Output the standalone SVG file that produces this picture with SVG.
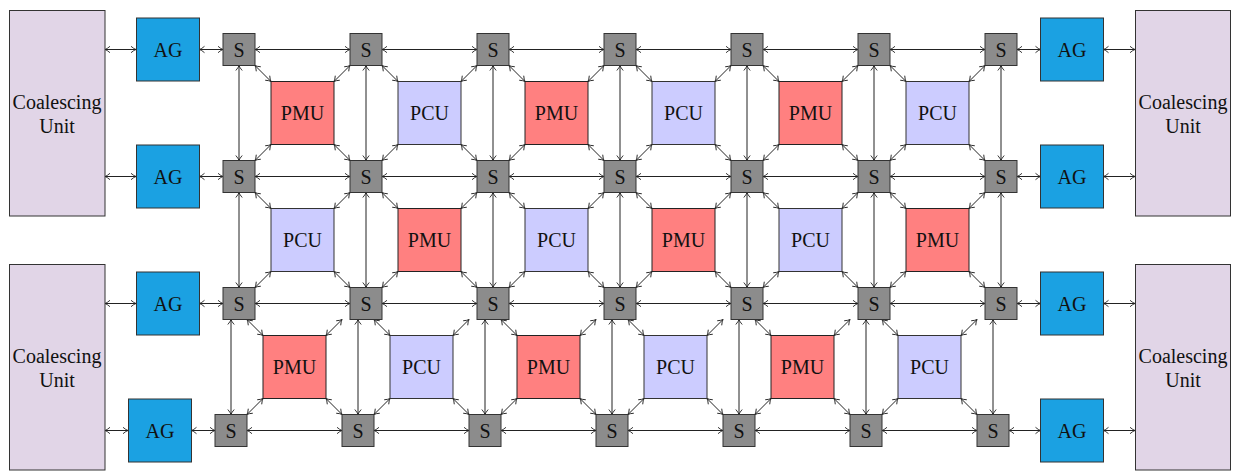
<svg xmlns="http://www.w3.org/2000/svg" width="1235" height="471" viewBox="0 0 1235 471">
<style>
.cu{fill:#e1d5e7;stroke:#333;stroke-width:1}
.ag{fill:#1ba1e2;stroke:#333;stroke-width:1}
.pmu{fill:#ff8080;stroke:#222;stroke-width:1}
.pcu{fill:#ccccff;stroke:#333;stroke-width:1}
.s{fill:#8c8c8c;stroke:#333;stroke-width:1}
text{font-family:"Liberation Serif","Times New Roman",serif;font-size:20px;fill:#111;text-anchor:middle}
#edges line{stroke:#222;stroke-width:1;fill:none;marker-start:url(#ah);marker-end:url(#ah)}
</style>
<defs>
<marker id="ah" viewBox="-7 -5 8 10" refX="0" refY="0" markerWidth="8" markerHeight="10" markerUnits="userSpaceOnUse" orient="auto-start-reverse" style="overflow:visible">
<path d="M-5,-3.2 Q-2,-0.6 0,0 Q-2,0.6 -5,3.2" fill="none" stroke="#222" stroke-width="0.9"/>
</marker>
</defs>
<rect width="1235" height="471" fill="#fff"/>

<g id="edges">
<line x1="105" y1="49.5" x2="136" y2="49.5"/>
<line x1="199.5" y1="49.5" x2="223" y2="49.5"/>
<line x1="255" y1="49.5" x2="350" y2="49.5"/>
<line x1="382" y1="49.5" x2="477" y2="49.5"/>
<line x1="509" y1="49.5" x2="604" y2="49.5"/>
<line x1="636" y1="49.5" x2="731" y2="49.5"/>
<line x1="763" y1="49.5" x2="858" y2="49.5"/>
<line x1="890" y1="49.5" x2="985" y2="49.5"/>
<line x1="1017" y1="49.5" x2="1040.5" y2="49.5"/>
<line x1="1103.5" y1="49.5" x2="1135" y2="49.5"/>
<line x1="105" y1="176.5" x2="136" y2="176.5"/>
<line x1="199.5" y1="176.5" x2="223" y2="176.5"/>
<line x1="255" y1="176.5" x2="350" y2="176.5"/>
<line x1="382" y1="176.5" x2="477" y2="176.5"/>
<line x1="509" y1="176.5" x2="604" y2="176.5"/>
<line x1="636" y1="176.5" x2="731" y2="176.5"/>
<line x1="763" y1="176.5" x2="858" y2="176.5"/>
<line x1="890" y1="176.5" x2="985" y2="176.5"/>
<line x1="1017" y1="176.5" x2="1040.5" y2="176.5"/>
<line x1="1103.5" y1="176.5" x2="1135" y2="176.5"/>
<line x1="105" y1="303.5" x2="136" y2="303.5"/>
<line x1="199.5" y1="303.5" x2="223" y2="303.5"/>
<line x1="255" y1="303.5" x2="350" y2="303.5"/>
<line x1="382" y1="303.5" x2="477" y2="303.5"/>
<line x1="509" y1="303.5" x2="604" y2="303.5"/>
<line x1="636" y1="303.5" x2="731" y2="303.5"/>
<line x1="763" y1="303.5" x2="858" y2="303.5"/>
<line x1="890" y1="303.5" x2="985" y2="303.5"/>
<line x1="1017" y1="303.5" x2="1040.5" y2="303.5"/>
<line x1="1103.5" y1="303.5" x2="1135" y2="303.5"/>
<line x1="105" y1="430.5" x2="128" y2="430.5"/>
<line x1="191.5" y1="430.5" x2="215" y2="430.5"/>
<line x1="247" y1="430.5" x2="342" y2="430.5"/>
<line x1="374" y1="430.5" x2="469" y2="430.5"/>
<line x1="501" y1="430.5" x2="596" y2="430.5"/>
<line x1="628" y1="430.5" x2="723" y2="430.5"/>
<line x1="755" y1="430.5" x2="850" y2="430.5"/>
<line x1="882" y1="430.5" x2="977" y2="430.5"/>
<line x1="1009" y1="430.5" x2="1040.5" y2="430.5"/>
<line x1="1103.5" y1="430.5" x2="1135" y2="430.5"/>
<line x1="239" y1="65.5" x2="239" y2="160.5"/>
<line x1="366" y1="65.5" x2="366" y2="160.5"/>
<line x1="493" y1="65.5" x2="493" y2="160.5"/>
<line x1="620" y1="65.5" x2="620" y2="160.5"/>
<line x1="747" y1="65.5" x2="747" y2="160.5"/>
<line x1="874" y1="65.5" x2="874" y2="160.5"/>
<line x1="1001" y1="65.5" x2="1001" y2="160.5"/>
<line x1="239" y1="192.5" x2="239" y2="287.5"/>
<line x1="366" y1="192.5" x2="366" y2="287.5"/>
<line x1="493" y1="192.5" x2="493" y2="287.5"/>
<line x1="620" y1="192.5" x2="620" y2="287.5"/>
<line x1="747" y1="192.5" x2="747" y2="287.5"/>
<line x1="874" y1="192.5" x2="874" y2="287.5"/>
<line x1="1001" y1="192.5" x2="1001" y2="287.5"/>
<line x1="231" y1="319.5" x2="231" y2="414.5"/>
<line x1="358" y1="319.5" x2="358" y2="414.5"/>
<line x1="485" y1="319.5" x2="485" y2="414.5"/>
<line x1="612" y1="319.5" x2="612" y2="414.5"/>
<line x1="739" y1="319.5" x2="739" y2="414.5"/>
<line x1="866" y1="319.5" x2="866" y2="414.5"/>
<line x1="993" y1="319.5" x2="993" y2="414.5"/>
<line x1="271" y1="81.5" x2="255" y2="65.5"/><line x1="334" y1="81.5" x2="350" y2="65.5"/><line x1="271" y1="144.5" x2="255" y2="160.5"/><line x1="334" y1="144.5" x2="350" y2="160.5"/>
<line x1="398" y1="81.5" x2="382" y2="65.5"/><line x1="461" y1="81.5" x2="477" y2="65.5"/><line x1="398" y1="144.5" x2="382" y2="160.5"/><line x1="461" y1="144.5" x2="477" y2="160.5"/>
<line x1="525" y1="81.5" x2="509" y2="65.5"/><line x1="588" y1="81.5" x2="604" y2="65.5"/><line x1="525" y1="144.5" x2="509" y2="160.5"/><line x1="588" y1="144.5" x2="604" y2="160.5"/>
<line x1="652" y1="81.5" x2="636" y2="65.5"/><line x1="715" y1="81.5" x2="731" y2="65.5"/><line x1="652" y1="144.5" x2="636" y2="160.5"/><line x1="715" y1="144.5" x2="731" y2="160.5"/>
<line x1="779" y1="81.5" x2="763" y2="65.5"/><line x1="842" y1="81.5" x2="858" y2="65.5"/><line x1="779" y1="144.5" x2="763" y2="160.5"/><line x1="842" y1="144.5" x2="858" y2="160.5"/>
<line x1="906" y1="81.5" x2="890" y2="65.5"/><line x1="969" y1="81.5" x2="985" y2="65.5"/><line x1="906" y1="144.5" x2="890" y2="160.5"/><line x1="969" y1="144.5" x2="985" y2="160.5"/>
<line x1="271" y1="208.5" x2="255" y2="192.5"/><line x1="334" y1="208.5" x2="350" y2="192.5"/><line x1="271" y1="271.5" x2="255" y2="287.5"/><line x1="334" y1="271.5" x2="350" y2="287.5"/>
<line x1="398" y1="208.5" x2="382" y2="192.5"/><line x1="461" y1="208.5" x2="477" y2="192.5"/><line x1="398" y1="271.5" x2="382" y2="287.5"/><line x1="461" y1="271.5" x2="477" y2="287.5"/>
<line x1="525" y1="208.5" x2="509" y2="192.5"/><line x1="588" y1="208.5" x2="604" y2="192.5"/><line x1="525" y1="271.5" x2="509" y2="287.5"/><line x1="588" y1="271.5" x2="604" y2="287.5"/>
<line x1="652" y1="208.5" x2="636" y2="192.5"/><line x1="715" y1="208.5" x2="731" y2="192.5"/><line x1="652" y1="271.5" x2="636" y2="287.5"/><line x1="715" y1="271.5" x2="731" y2="287.5"/>
<line x1="779" y1="208.5" x2="763" y2="192.5"/><line x1="842" y1="208.5" x2="858" y2="192.5"/><line x1="779" y1="271.5" x2="763" y2="287.5"/><line x1="842" y1="271.5" x2="858" y2="287.5"/>
<line x1="906" y1="208.5" x2="890" y2="192.5"/><line x1="969" y1="208.5" x2="985" y2="192.5"/><line x1="906" y1="271.5" x2="890" y2="287.5"/><line x1="969" y1="271.5" x2="985" y2="287.5"/>
<line x1="263" y1="335.5" x2="247" y2="319.5"/><line x1="326" y1="335.5" x2="342" y2="319.5"/><line x1="263" y1="398.5" x2="247" y2="414.5"/><line x1="326" y1="398.5" x2="342" y2="414.5"/>
<line x1="390" y1="335.5" x2="374" y2="319.5"/><line x1="453" y1="335.5" x2="469" y2="319.5"/><line x1="390" y1="398.5" x2="374" y2="414.5"/><line x1="453" y1="398.5" x2="469" y2="414.5"/>
<line x1="517" y1="335.5" x2="501" y2="319.5"/><line x1="580" y1="335.5" x2="596" y2="319.5"/><line x1="517" y1="398.5" x2="501" y2="414.5"/><line x1="580" y1="398.5" x2="596" y2="414.5"/>
<line x1="644" y1="335.5" x2="628" y2="319.5"/><line x1="707" y1="335.5" x2="723" y2="319.5"/><line x1="644" y1="398.5" x2="628" y2="414.5"/><line x1="707" y1="398.5" x2="723" y2="414.5"/>
<line x1="771" y1="335.5" x2="755" y2="319.5"/><line x1="834" y1="335.5" x2="850" y2="319.5"/><line x1="771" y1="398.5" x2="755" y2="414.5"/><line x1="834" y1="398.5" x2="850" y2="414.5"/>
<line x1="898" y1="335.5" x2="882" y2="319.5"/><line x1="961" y1="335.5" x2="977" y2="319.5"/><line x1="898" y1="398.5" x2="882" y2="414.5"/><line x1="961" y1="398.5" x2="977" y2="414.5"/>
</g>

<g id="cu-left-top"><rect class="cu" x="9.5" y="10.5" width="95.5" height="205.5"/><text x="57" y="108.5">Coalescing</text><text x="57" y="132.5">Unit</text></g>
<g id="cu-left-bottom"><rect class="cu" x="9.5" y="264.5" width="95.5" height="205.5"/><text x="57" y="362.5">Coalescing</text><text x="57" y="386.5">Unit</text></g>
<g id="cu-right-top"><rect class="cu" x="1135.5" y="10.5" width="95" height="205.5"/><text x="1183" y="108.5">Coalescing</text><text x="1183" y="132.5">Unit</text></g>
<g id="cu-right-bottom"><rect class="cu" x="1135.5" y="264.5" width="95" height="205.5"/><text x="1183" y="362.5">Coalescing</text><text x="1183" y="386.5">Unit</text></g>

<g id="ag-l0"><rect class="ag" x="136.5" y="18" width="63" height="63"/><text x="168" y="57">AG</text></g>
<g id="ag-l1"><rect class="ag" x="136.5" y="145" width="63" height="63"/><text x="168" y="184">AG</text></g>
<g id="ag-l2"><rect class="ag" x="136.5" y="272" width="63" height="63"/><text x="168" y="311">AG</text></g>
<g id="ag-l3"><rect class="ag" x="128.5" y="399" width="63" height="63"/><text x="160" y="438">AG</text></g>
<g id="ag-r0"><rect class="ag" x="1040.5" y="18" width="63" height="63"/><text x="1072" y="57">AG</text></g>
<g id="ag-r1"><rect class="ag" x="1040.5" y="145" width="63" height="63"/><text x="1072" y="184">AG</text></g>
<g id="ag-r2"><rect class="ag" x="1040.5" y="272" width="63" height="63"/><text x="1072" y="311">AG</text></g>
<g id="ag-r3"><rect class="ag" x="1040.5" y="399" width="63" height="63"/><text x="1072" y="438">AG</text></g>

<g id="s00"><rect class="s" x="223" y="33.5" width="32" height="32"/><text x="239" y="57">S</text></g>
<g id="s01"><rect class="s" x="350" y="33.5" width="32" height="32"/><text x="366" y="57">S</text></g>
<g id="s02"><rect class="s" x="477" y="33.5" width="32" height="32"/><text x="493" y="57">S</text></g>
<g id="s03"><rect class="s" x="604" y="33.5" width="32" height="32"/><text x="620" y="57">S</text></g>
<g id="s04"><rect class="s" x="731" y="33.5" width="32" height="32"/><text x="747" y="57">S</text></g>
<g id="s05"><rect class="s" x="858" y="33.5" width="32" height="32"/><text x="874" y="57">S</text></g>
<g id="s06"><rect class="s" x="985" y="33.5" width="32" height="32"/><text x="1001" y="57">S</text></g>

<g id="s10"><rect class="s" x="223" y="160.5" width="32" height="32"/><text x="239" y="184">S</text></g>
<g id="s11"><rect class="s" x="350" y="160.5" width="32" height="32"/><text x="366" y="184">S</text></g>
<g id="s12"><rect class="s" x="477" y="160.5" width="32" height="32"/><text x="493" y="184">S</text></g>
<g id="s13"><rect class="s" x="604" y="160.5" width="32" height="32"/><text x="620" y="184">S</text></g>
<g id="s14"><rect class="s" x="731" y="160.5" width="32" height="32"/><text x="747" y="184">S</text></g>
<g id="s15"><rect class="s" x="858" y="160.5" width="32" height="32"/><text x="874" y="184">S</text></g>
<g id="s16"><rect class="s" x="985" y="160.5" width="32" height="32"/><text x="1001" y="184">S</text></g>

<g id="s20"><rect class="s" x="223" y="287.5" width="32" height="32"/><text x="239" y="311">S</text></g>
<g id="s21"><rect class="s" x="350" y="287.5" width="32" height="32"/><text x="366" y="311">S</text></g>
<g id="s22"><rect class="s" x="477" y="287.5" width="32" height="32"/><text x="493" y="311">S</text></g>
<g id="s23"><rect class="s" x="604" y="287.5" width="32" height="32"/><text x="620" y="311">S</text></g>
<g id="s24"><rect class="s" x="731" y="287.5" width="32" height="32"/><text x="747" y="311">S</text></g>
<g id="s25"><rect class="s" x="858" y="287.5" width="32" height="32"/><text x="874" y="311">S</text></g>
<g id="s26"><rect class="s" x="985" y="287.5" width="32" height="32"/><text x="1001" y="311">S</text></g>

<g id="s30"><rect class="s" x="215" y="414.5" width="32" height="32"/><text x="231" y="438">S</text></g>
<g id="s31"><rect class="s" x="342" y="414.5" width="32" height="32"/><text x="358" y="438">S</text></g>
<g id="s32"><rect class="s" x="469" y="414.5" width="32" height="32"/><text x="485" y="438">S</text></g>
<g id="s33"><rect class="s" x="596" y="414.5" width="32" height="32"/><text x="612" y="438">S</text></g>
<g id="s34"><rect class="s" x="723" y="414.5" width="32" height="32"/><text x="739" y="438">S</text></g>
<g id="s35"><rect class="s" x="850" y="414.5" width="32" height="32"/><text x="866" y="438">S</text></g>
<g id="s36"><rect class="s" x="977" y="414.5" width="32" height="32"/><text x="993" y="438">S</text></g>

<g id="u00"><rect class="pmu" x="271" y="81.5" width="63" height="63"/><text x="302.5" y="120">PMU</text></g>
<g id="u01"><rect class="pcu" x="398" y="81.5" width="63" height="63"/><text x="429.5" y="120">PCU</text></g>
<g id="u02"><rect class="pmu" x="525" y="81.5" width="63" height="63"/><text x="556.5" y="120">PMU</text></g>
<g id="u03"><rect class="pcu" x="652" y="81.5" width="63" height="63"/><text x="683.5" y="120">PCU</text></g>
<g id="u04"><rect class="pmu" x="779" y="81.5" width="63" height="63"/><text x="810.5" y="120">PMU</text></g>
<g id="u05"><rect class="pcu" x="906" y="81.5" width="63" height="63"/><text x="937.5" y="120">PCU</text></g>
<g id="u10"><rect class="pcu" x="271" y="208.5" width="63" height="63"/><text x="302.5" y="247">PCU</text></g>
<g id="u11"><rect class="pmu" x="398" y="208.5" width="63" height="63"/><text x="429.5" y="247">PMU</text></g>
<g id="u12"><rect class="pcu" x="525" y="208.5" width="63" height="63"/><text x="556.5" y="247">PCU</text></g>
<g id="u13"><rect class="pmu" x="652" y="208.5" width="63" height="63"/><text x="683.5" y="247">PMU</text></g>
<g id="u14"><rect class="pcu" x="779" y="208.5" width="63" height="63"/><text x="810.5" y="247">PCU</text></g>
<g id="u15"><rect class="pmu" x="906" y="208.5" width="63" height="63"/><text x="937.5" y="247">PMU</text></g>
<g id="u20"><rect class="pmu" x="263" y="335.5" width="63" height="63"/><text x="294.5" y="374">PMU</text></g>
<g id="u21"><rect class="pcu" x="390" y="335.5" width="63" height="63"/><text x="421.5" y="374">PCU</text></g>
<g id="u22"><rect class="pmu" x="517" y="335.5" width="63" height="63"/><text x="548.5" y="374">PMU</text></g>
<g id="u23"><rect class="pcu" x="644" y="335.5" width="63" height="63"/><text x="675.5" y="374">PCU</text></g>
<g id="u24"><rect class="pmu" x="771" y="335.5" width="63" height="63"/><text x="802.5" y="374">PMU</text></g>
<g id="u25"><rect class="pcu" x="898" y="335.5" width="63" height="63"/><text x="929.5" y="374">PCU</text></g>
</svg>
